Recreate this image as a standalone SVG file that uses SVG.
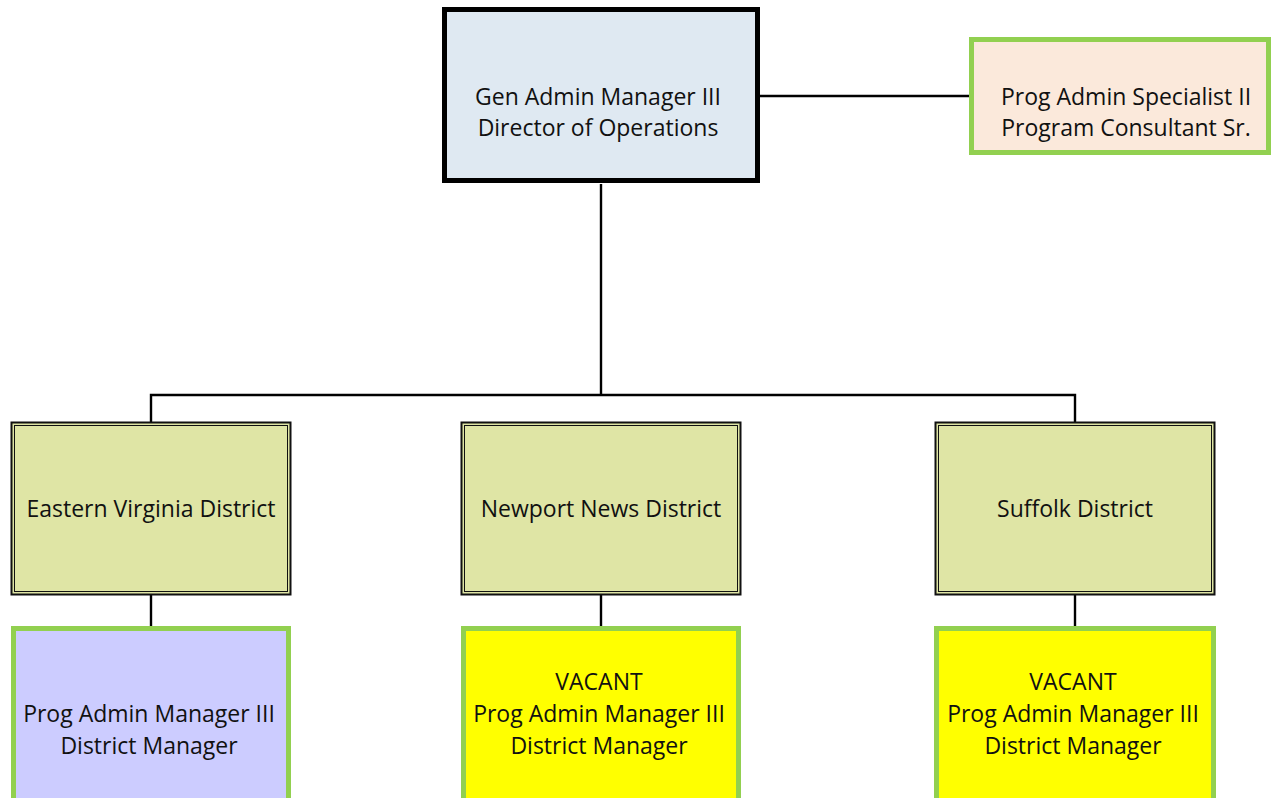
<svg xmlns="http://www.w3.org/2000/svg" width="1271" height="798" viewBox="0 0 1271 798">
<style>
.t{font-family:"Open Sans","Noto Sans","Liberation Sans",sans-serif;font-size:23px;fill:#111;text-anchor:middle}
.c{stroke:#000;stroke-width:2.4;fill:none}
.g{stroke:#92d050;stroke-width:5}
.d1{fill:#dfe5a5;stroke:#111;stroke-width:2}
.d2{fill:none;stroke:#111;stroke-width:1}
</style>
<rect width="1271" height="798" fill="#fff"/>
<g id="connectors">
<line class="c" x1="760" y1="96" x2="971" y2="96"/>
<polyline class="c" points="601,184 601,395"/>
<polyline class="c" points="151,422 151,395 1075,395 1075,422"/>
<line class="c" x1="151" y1="595" x2="151" y2="626"/>
<line class="c" x1="601" y1="595" x2="601" y2="626"/>
<line class="c" x1="1075" y1="595" x2="1075" y2="626"/>
</g>
<g id="director">
<rect x="444.5" y="9.5" width="313" height="171" fill="#dfe9f2" stroke="#000" stroke-width="5"/>
<text class="t" x="598" y="105">Gen Admin Manager III</text>
<text class="t" x="598" y="136">Director of Operations</text>
</g>
<g id="specialist">
<rect class="g" x="971.5" y="39.5" width="297" height="113" fill="#fbe9db"/>
<text class="t" x="1126" y="105">Prog Admin Specialist II</text>
<text class="t" x="1126" y="136">Program Consultant Sr.</text>
</g>
<g id="eastern-virginia">
<rect class="d1" x="11.5" y="422.5" width="279" height="172"/>
<rect class="d2" x="14.5" y="425.5" width="273" height="166"/>
<text class="t" x="151" y="517">Eastern Virginia District</text>
</g>
<g id="newport-news">
<rect class="d1" x="461.5" y="422.5" width="279" height="172"/>
<rect class="d2" x="464.5" y="425.5" width="273" height="166"/>
<text class="t" x="601" y="517">Newport News District</text>
</g>
<g id="suffolk">
<rect class="d1" x="935.5" y="422.5" width="279" height="172"/>
<rect class="d2" x="938.5" y="425.5" width="273" height="166"/>
<text class="t" x="1075" y="517">Suffolk District</text>
</g>
<g id="ev-manager">
<rect class="g" x="13.5" y="628.5" width="275" height="172" fill="#ccccff"/>
<text class="t" x="149" y="722">Prog Admin Manager III</text>
<text class="t" x="149" y="754">District Manager</text>
</g>
<g id="nn-manager">
<rect class="g" x="463.5" y="628.5" width="275" height="172" fill="#ffff00"/>
<text class="t" x="599" y="690">VACANT</text>
<text class="t" x="599" y="722">Prog Admin Manager III</text>
<text class="t" x="599" y="754">District Manager</text>
</g>
<g id="suffolk-manager">
<rect class="g" x="936.5" y="628.5" width="277" height="172" fill="#ffff00"/>
<text class="t" x="1073" y="690">VACANT</text>
<text class="t" x="1073" y="722">Prog Admin Manager III</text>
<text class="t" x="1073" y="754">District Manager</text>
</g>
</svg>
